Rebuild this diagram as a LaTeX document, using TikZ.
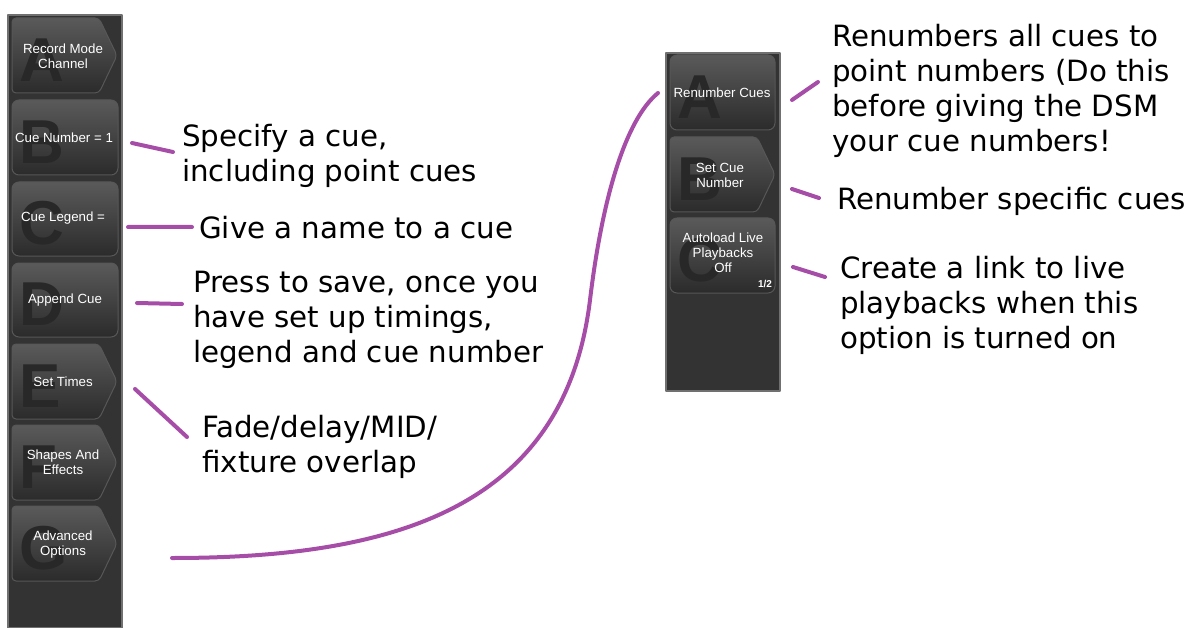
\documentclass[tikz,border=0pt]{standalone}
\usepackage{fontspec}
\setmainfont{DejaVu Sans}
\newfontfamily\keyfont{Liberation Sans}
\definecolor{panelgray}{HTML}{333333}
\definecolor{paneledge}{HTML}{707070}
\definecolor{keytop}{HTML}{5A5A5A}
\definecolor{keybot}{HTML}{2B2B2B}
\definecolor{keyedge}{HTML}{575757}
\definecolor{letterdark}{HTML}{282828}
\definecolor{notepurple}{HTML}{A64DA8}
\tikzset{
	panel/.style={fill=panelgray, draw=paneledge, line width=1.5pt},
	keyrect/.style={top color=keytop, bottom color=keybot, draw=keyedge, line width=1pt, rounded corners=7pt},
	keyarrow/.style={keyrect, rounded corners=4pt},
	keytext/.style={text=white, font=\keyfont\fontsize{13.3}{15}\selectfont, align=center, inner sep=0pt},
	keyletter/.style={text=letterdark, font=\keyfont\fontsize{62}{62}\selectfont\bfseries, anchor=west, inner sep=0pt},
	note/.style={font=\fontsize{29.3}{35}\selectfont, align=left, anchor=base west, inner sep=0pt},
	link/.style={draw=notepurple, line width=4pt, line cap=round}
}
\begin{document}
\begin{tikzpicture}[x=1pt, y=-1pt, line join=round, line cap=round]
				\useasboundingbox (0,0) rectangle (1190,628);
				\draw[panel] (8,15) rectangle (122,628);
				\draw[panel] (666,53) rectangle (780,391);
				\draw[keyarrow] (12,18) -- (99,18) -- (117,55.5) -- (99,93) -- (12,93) -- cycle;
				\draw[keyrect] (12,100) rectangle (118,175);
				\draw[keyrect] (12,182) rectangle (118,256);
				\draw[keyrect] (12,263) rectangle (118,337);
				\draw[keyarrow] (12,344) -- (99,344) -- (117,381.5) -- (99,419) -- (12,419) -- cycle;
				\draw[keyarrow] (12,425) -- (99,425) -- (117,462.5) -- (99,500) -- (12,500) -- cycle;
				\draw[keyarrow] (12,506) -- (99,506) -- (117,543.5) -- (99,581) -- (12,581) -- cycle;
				\draw[keyrect] (670,55) rectangle (775,130);
				\draw[keyarrow] (670,137) -- (757,137) -- (775,174.5) -- (757,212) -- (670,212) -- cycle;
				\draw[keyrect] (670,218) rectangle (775,293);
				\node[keyletter] (lA) at (19,60) {A};
				\node[keyletter] (lB) at (19,142) {B};
				\node[keyletter] (lC) at (19,223) {C};
				\node[keyletter] (lD) at (19,304) {D};
				\node[keyletter] (lE) at (19,386) {E};
				\node[keyletter] (lF) at (19,467) {F};
				\node[keyletter] (lG) at (19,548) {G};
				\node[keyletter] (rlA) at (677,97) {A};
				\node[keyletter] (rlB) at (677,179) {B};
				\node[keyletter] (rlC) at (677,260) {C};
				\node[keytext] (kA) at (63,56) {Record Mode\\Channel};
				\node[keytext] (kB) at (64,138) {Cue Number = 1};
				\node[keytext] (kC) at (63,218) {Cue Legend =};
				\node[keytext] (kD) at (65,300) {Append Cue};
				\node[keytext] (kE) at (63,382) {Set Times};
				\node[keytext] (kF) at (63,462) {Shapes And\\Effects};
				\node[keytext] (kG) at (63,545) {Advanced\\Options};
				\node[keytext] (rkA) at (722,93) {Renumber Cues};
				\node[keytext] (rkB) at (720,175) {Set Cue\\Number};
				\node[keytext] (rkC) at (723,253) {Autoload Live\\Playbacks\\Off};
				\node[keytext, font=\keyfont\fontsize{10}{10}\selectfont\bfseries] (page) at (765,284) {1/2};
				\node[note] (nB) at (182,182) {Specify a cue,\\including point cues};
				\node[note] (nC) at (199,239) {Give a name to a cue};
				\node[note] (nD) at (193,362) {Press to save, once you\\have set up timings,\\legend and cue number};
				\node[note] (nE) at (202,472) {Fade/delay/MID/\\fixture overlap};
				\node[note] (rnA) at (832,152) {Renumbers all cues to\\point numbers (Do this\\before giving the DSM\\your cue numbers!};
				\node[note] (rnB) at (837,210) {Renumber specific cues};
				\node[note] (rnC) at (840,348) {Create a link to live\\playbacks when this\\option is turned on};
				\coordinate (bS) at (132,143); \coordinate (bE) at (173,152);
				\coordinate (cS) at (128,227); \coordinate (cE) at (192,227);
				\coordinate (dS) at (137,303); \coordinate (dE) at (182,304);
				\coordinate (eS) at (135,389); \coordinate (eE) at (187,437);
				\coordinate (gS) at (172,558); \coordinate (gE) at (658,93);
				\coordinate (raS) at (792,100); \coordinate (raE) at (818,82);
				\coordinate (rbS) at (792,189); \coordinate (rbE) at (819,198);
				\coordinate (rcS) at (793,267); \coordinate (rcE) at (825,277);
				\draw[link] (bS)--(bE) (cS)--(cE) (dS)--(dE) (eS)--(eE) (raS)--(raE) (rbS)--(rbE) (rcS)--(rcE);
				\draw[link] (gS) .. controls (400,558) and (565,505) .. (590,300) .. controls (602,200) and (625,120) .. (gE);
			\end{tikzpicture}
\end{document}
